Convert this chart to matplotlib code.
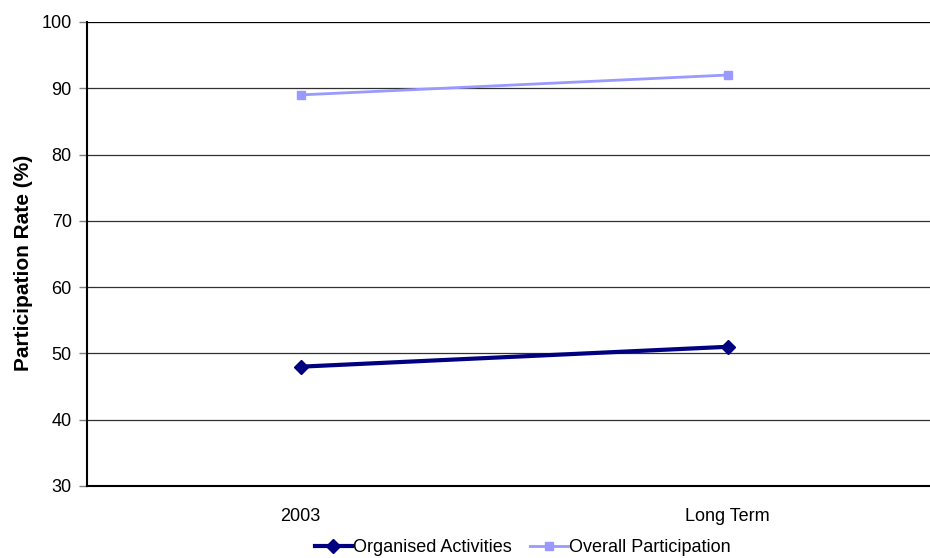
import matplotlib.pyplot as plt

categories = ["2003", "Long Term"]
organised = [48, 51]
overall = [89, 92]

plt.rcParams['font.family'] = ['Liberation Sans', 'DejaVu Sans']

fig = plt.figure(figsize=(9.3, 5.58), dpi=100)
ax = fig.add_axes([87 / 930, 1 - 486 / 558, 854 / 930, 464 / 558])

x = range(len(categories))
ax.plot(x, organised, color='#000080', lw=3, marker='D', ms=7, label='Organised Activities')
ax.plot(x, overall, color='#9999ff', lw=2, marker='s', ms=6, label='Overall Participation')

ax.set_xlim(-0.5, 1.5)
ax.set_ylim(30, 100)
ax.set_yticks(range(30, 101, 10))
ax.set_xticks(list(x))
ax.set_xticklabels(categories)
ax.yaxis.grid(True, color='#303030', lw=0.9)
ax.set_axisbelow(True)
ax.spines['top'].set_visible(False)
ax.spines['right'].set_visible(False)
ax.spines['left'].set_linewidth(1.5)
ax.spines['bottom'].set_linewidth(1.5)
ax.axhline(100, color='black', lw=1.5, zorder=1)
ax.tick_params(axis='x', length=0, pad=16, labelsize=13)
ax.tick_params(axis='y', length=6, width=1, color='#808080', pad=5, labelsize=13)
ax.set_ylabel('Participation Rate (%)', fontsize=15, fontweight='bold')
ax.yaxis.set_label_coords(-0.063, 0.48)

ax.legend(loc='center', bbox_to_anchor=(0.51, -0.133), ncol=2, frameon=False,
          fontsize=13, handlelength=2.1, handletextpad=0.05, columnspacing=1.0, borderaxespad=0)

fig.savefig('out.png', dpi=100)
